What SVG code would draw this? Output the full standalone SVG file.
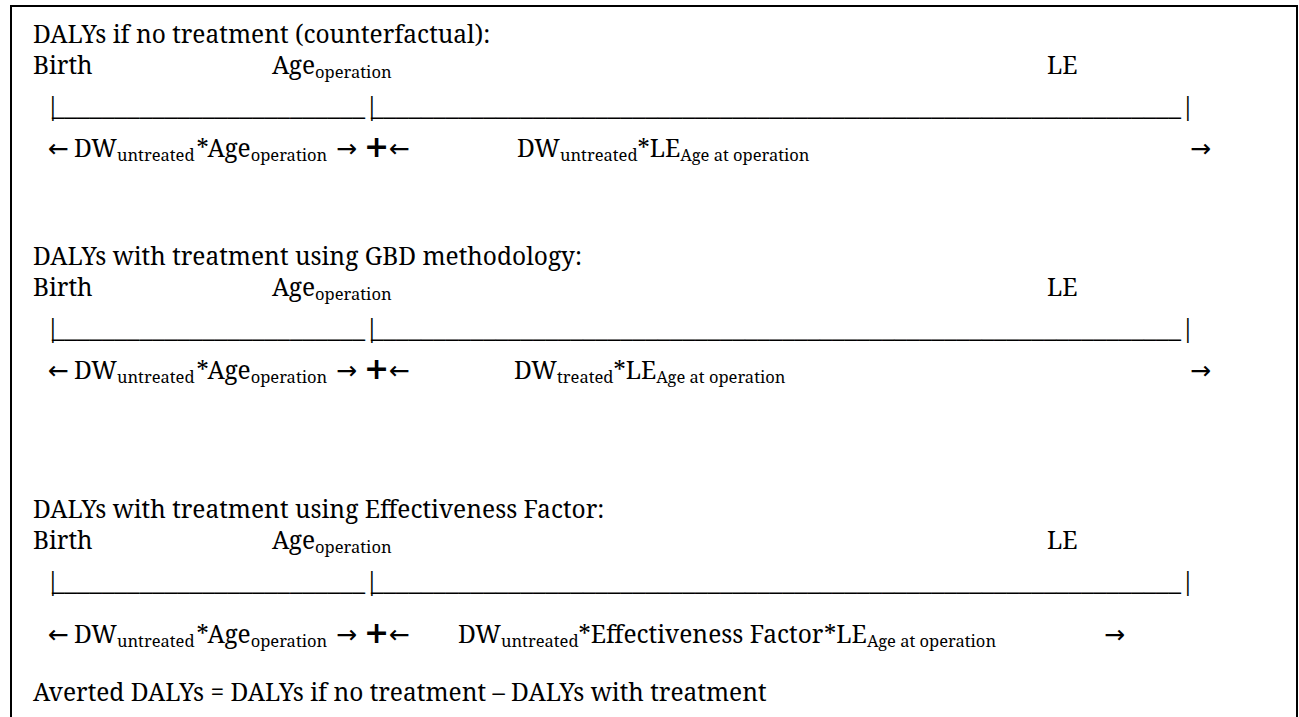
<svg xmlns="http://www.w3.org/2000/svg" width="1299" height="717" viewBox="0 0 1299 717" font-family="Noto Serif, Liberation Serif, serif" font-size="24.5">
<style>
.s{font-size:16.5px}
.a{font-family:"DejaVu Sans",sans-serif;font-size:25px}
.p{font-family:"DejaVu Sans",sans-serif;font-size:30px;font-weight:bold}
</style>
<defs>
<g id="tl">
<text x="46" y="0">|</text><text x="52" y="0" textLength="313" lengthAdjust="spacingAndGlyphs">_________________________</text>
<text x="365" y="0">|</text><text x="371" y="0" textLength="810" lengthAdjust="spacingAndGlyphs">_________________________________________________________________</text>
<text x="1181" y="0">|</text>
</g>
<g id="left">
<text class="a" x="48" y="0">←</text>
<text x="74" y="0">DW<tspan class="s" dy="4">untreated</tspan><tspan dx="2" dy="-4">*Age</tspan><tspan class="s" dy="4">operation</tspan></text>
<text class="a" x="336" y="0">→</text>
<text class="p" x="364" y="0">+</text>
<text class="a" x="389" y="0">←</text>
</g>
</defs>
<rect width="1299" height="717" fill="#fff"/>
<path d="M1297 717V6H11V717" fill="none" stroke="#000" stroke-width="2"/>

<g id="section1">
<text x="33" y="43">DALYs if no treatment (counterfactual):</text>
<text x="33" y="74">Birth</text>
<text x="272" y="74">Age<tspan class="s" dy="4">operation</tspan></text>
<text x="1047" y="74">LE</text>
<use href="#tl" y="115"/>
<use href="#left" y="157"/>
<text x="517" y="157">DW<tspan class="s" dy="4">untreated</tspan><tspan dy="-4">*LE</tspan><tspan class="s" dy="4">Age at operation</tspan></text>
<text class="a" x="1190" y="157">→</text>
</g>

<g id="section2">
<text x="33" y="265">DALYs with treatment using GBD methodology:</text>
<text x="33" y="296">Birth</text>
<text x="272" y="296">Age<tspan class="s" dy="4">operation</tspan></text>
<text x="1047" y="296">LE</text>
<use href="#tl" y="337"/>
<use href="#left" y="379"/>
<text x="514" y="379">DW<tspan class="s" dy="4">treated</tspan><tspan dy="-4">*LE</tspan><tspan class="s" dy="4">Age at operation</tspan></text>
<text class="a" x="1190" y="379">→</text>
</g>

<g id="section3">
<text x="33" y="518">DALYs with treatment using Effectiveness Factor:</text>
<text x="33" y="549">Birth</text>
<text x="272" y="549">Age<tspan class="s" dy="4">operation</tspan></text>
<text x="1047" y="549">LE</text>
<use href="#tl" y="590"/>
<use href="#left" y="643"/>
<text x="458" y="643">DW<tspan class="s" dy="4">untreated</tspan><tspan dy="-4">*Effectiveness Factor*LE</tspan><tspan class="s" dy="4">Age at operation</tspan></text>
<text class="a" x="1104" y="643">→</text>
</g>

<text id="averted" x="33" y="701">Averted DALYs = DALYs if no treatment – DALYs with treatment</text>
</svg>
